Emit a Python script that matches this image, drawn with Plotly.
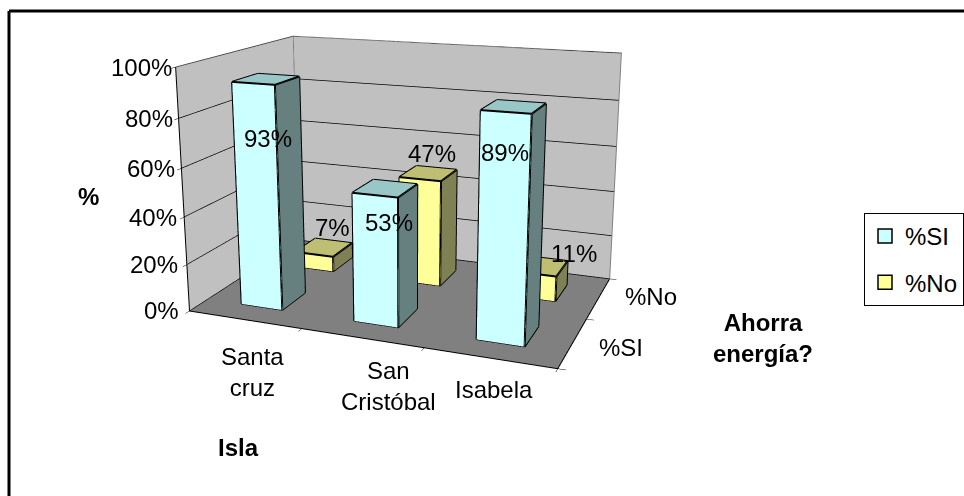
import plotly.graph_objects as go

islas = ["Santa<br>cruz", "San<br>Cristóbal", "Isabela"]
series = ["%SI", "%No"]
si_values = [93, 53, 89]
no_values = [7, 47, 11]
pct_ticks = [0, 20, 40, 60, 80, 100]

FRONT = ["#CCFFFF", "#FFFF99"]
TOP = ["#99C6C6", "#BFBF73"]
SIDE = ["#668080", "#808055"]
BW, BD = 0.37, 0.42
FONT = "Liberation Sans, Arial, sans-serif"
FIG_H, OFFSET = 883, 261
ISLA_SHIFT = [(8, -21), (27, -17), (5, -16)]
SI_SHIFT = [(12, -9), (13, -1), (0, 8)]
NO_SHIFT = [(18, 27), (12, 25), (39, 20)]

def px(x): return x / 964
def py(y): return 1 - (y + OFFSET) / FIG_H

def bar(cx, cy, h, s):
    x0, x1 = cx - BW / 2, cx + BW / 2
    y0, y1 = cy - BD / 2, cy + BD / 2
    X = [x0, x1, x1, x0, x0, x1, x1, x0]
    Y = [y0, y0, y1, y1, y0, y0, y1, y1]
    Z = [0, 0, 0, 0, h, h, h, h]
    quads = [((0, 1, 5, 4), FRONT[s]), ((1, 2, 6, 5), SIDE[s]), ((4, 5, 6, 7), TOP[s]),
             ((3, 2, 6, 7), SIDE[s]), ((0, 3, 7, 4), SIDE[s])]
    I, J, K, C = [], [], [], []
    for q, c in quads:
        I += [q[0], q[0]]; J += [q[1], q[2]]; K += [q[2], q[3]]; C += [c, c]
    mesh = go.Mesh3d(x=X, y=Y, z=Z, i=I, j=J, k=K, facecolor=C, flatshading=True,
                     lighting=dict(ambient=1, diffuse=0, specular=0, fresnel=0, roughness=1),
                     hoverinfo="skip", showlegend=False)
    ex, ey, ez = [], [], []
    for a, b in [(0,1),(1,2),(1,5),(2,6),(5,6),(4,5),(0,4),(4,7),(7,6)]:
        ex += [X[a], X[b], None]; ey += [Y[a], Y[b], None]; ez += [Z[a], Z[b], None]
    line = go.Scatter3d(x=ex, y=ey, z=ez, mode="lines", line=dict(color="black", width=4),
                        hoverinfo="skip", showlegend=False)
    return [mesh, line]

fig = go.Figure()
for s, vals in enumerate([si_values, no_values]):
    for c, v in enumerate(vals):
        for t in bar(c + 0.5, s + 0.5, v, s):
            fig.add_trace(t)

fig.add_trace(go.Scatter3d(x=[0, 0, 3, 3], y=[0, 0, 0, 2], z=[100, 0, 0, 0], mode="lines",
                           line=dict(color="black", width=2), hoverinfo="skip", showlegend=False))
fig.add_trace(go.Scatter3d(x=[0, 0, 3, 3, None, 0, 0], y=[0, 2, 2, 2, None, 2, 2], z=[100, 100, 100, 0, None, 0, 100],
                           mode="lines", line=dict(color="#808080", width=2), hoverinfo="skip", showlegend=False))

for name, c in zip(series, FRONT):
    fig.add_trace(go.Scatter3d(x=[None], y=[None], z=[None], mode="markers", name=name, legendgroup=name,
                               marker=dict(symbol="square", size=14, color=c, line=dict(color="black", width=1.5))))

def A(x, y, z, text, **kw):
    d = dict(x=x, y=y, z=z, text=text, showarrow=False, font=dict(family=FONT, size=24, color="black"))
    d.update(kw)
    return d

ann = []
for t in pct_ticks:
    ann.append(A(0, 0, t, f"{t}%", xanchor="right", xshift=-8 + t * 0.06))
for c, name in enumerate(islas):
    ann.append(A(c + 0.5, 0, 0, name, yanchor="top", xshift=ISLA_SHIFT[c][0], yshift=ISLA_SHIFT[c][1]))
ann.append(A(3, 0.5, 0, "%SI", xanchor="left", xshift=24, yshift=-5))
ann.append(A(3, 1.5, 0, "%No", xanchor="left", xshift=24, yshift=1))
for c, v in enumerate(si_values):
    ann.append(A(c + 0.5, 0.3, v * 0.8, f"{v}%", xshift=SI_SHIFT[c][0], yshift=SI_SHIFT[c][1]))
for c, v in enumerate(no_values):
    ann.append(A(c + 0.5, 1.3, v, f"{v}%", xshift=NO_SHIFT[c][0], yshift=NO_SHIFT[c][1]))

ax = dict(showbackground=True, showticklabels=False, title=dict(text=""), showspikes=False,
          zeroline=False, showline=False)
bf = dict(family=FONT, size=24, color="black")
center = dict(xanchor="center", yanchor="middle", xref="paper", yref="paper", showarrow=False, font=bf)
fig.update_layout(
    width=964, height=FIG_H, margin=dict(l=0, r=0, t=0, b=0), paper_bgcolor="white",
    scene=dict(
        domain=dict(x=[0, 816/964], y=[0, 1]),
        xaxis=dict(ax, range=[0, 3], showgrid=False, backgroundcolor="#C0C0C0", tickvals=[0, 1, 2, 3], ticks="outside", ticklen=6, tickcolor="black"),
        yaxis=dict(ax, range=[0, 2], showgrid=False, backgroundcolor="#C0C0C0", tickvals=[0, 1, 2], ticks="outside", ticklen=6, tickcolor="black"),
        zaxis=dict(ax, range=[0, 100], showgrid=True, gridcolor="black", gridwidth=1.5, backgroundcolor="#808080", tickvals=pct_ticks, ticks="outside", ticklen=6, tickcolor="black"),
        aspectmode="manual", aspectratio=dict(x=0.695, y=0.45, z=0.455),
        camera=dict(projection=dict(type="perspective"),
                    up=dict(x=0, y=0, z=1),
                    eye=dict(x=0.692, y=-1.803, z=0.518), center=dict(x=0, y=0, z=0)),
        annotations=ann,
    ),
    legend=dict(x=px(864), y=py(213), xanchor="left", yanchor="top", bordercolor="black", borderwidth=1,
                tracegroupgap=12, bgcolor="white", font=bf),
    annotations=[
        dict(center, x=px(88), y=py(197), text="<b>%</b>"),
        dict(center, x=px(238), y=py(447), text="<b>Isla</b>"),
        dict(center, x=px(763), y=py(338), text="<b>Ahorra<br>energía?</b>"),
    ],
    shapes=[
        dict(type="line", xref="paper", yref="paper", x0=px(9), x1=px(964), y0=py(11), y1=py(11), line=dict(color="black", width=3)),
        dict(type="line", xref="paper", yref="paper", x0=px(9), x1=px(9), y0=py(11), y1=py(496), line=dict(color="black", width=3)),
    ],
)
fig.write_html("out.html", config=dict(displayModeBar=False),
               post_script=f"document.body.style.margin='0';document.body.style.overflow='hidden';document.documentElement.style.overflow='hidden';document.getElementById('{{plot_id}}').style.marginTop='-{OFFSET}px';")
